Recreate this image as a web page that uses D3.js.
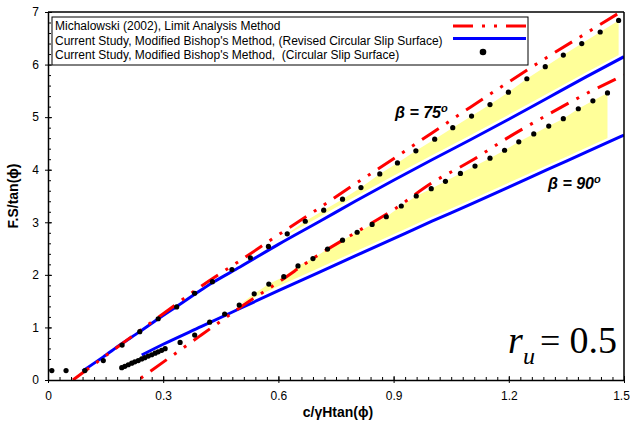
<!DOCTYPE html>
<html>
<head>
<meta charset="utf-8">
<script src="https://cdn.jsdelivr.net/npm/d3@7"></script>
<style>
  body { margin: 0; background: #fff; }
  svg { display: block; }
</style>
</head>
<body>
<svg id="chart" width="630" height="425"></svg>
<script>
// ---- axis ticks ----
const xTickValues = [0, 0.3, 0.6, 0.9, 1.2, 1.5];
const xTickLabels = ["0", "0.3", "0.6", "0.9", "1.2", "1.5"];
const yTickValues = [0, 1, 2, 3, 4, 5, 6, 7];
const yTickLabels = ["0", "1", "2", "3", "4", "5", "6", "7"];

// ---- legend entries ----
const seriesNames = [
  "Michalowski (2002), Limit Analysis Method",
  "Current Study, Modified Bishop's Method, (Revised Circular Slip Surface)",
  "Current Study, Modified Bishop's Method,  (Circular Slip Surface)"
];

// ---- Michalowski (2002), limit analysis ----
const limit75X = [0.065, 0.1, 0.2, 0.3, 0.4, 0.5, 0.6, 0.7, 0.8, 0.9, 1.0, 1.1, 1.2, 1.3, 1.4, 1.5];
const limit75Y = [0.0, 0.19, 0.73, 1.26, 1.79, 2.27, 2.76, 3.24, 3.73, 4.21, 4.70, 5.19, 5.67, 6.14, 6.59, 7.04];
const limit90X = [0.235, 0.3, 0.35, 0.4, 0.45, 0.5, 0.6, 0.7, 0.8, 0.9, 1.0, 1.1, 1.2, 1.3, 1.4, 1.5];
const limit90Y = [0.0, 0.34, 0.60, 0.86, 1.12, 1.38, 1.86, 2.36, 2.80, 3.24, 3.75, 4.16, 4.62, 5.04, 5.44, 5.80];

// ---- Modified Bishop, revised circular slip surface ----
const revised75X = [0.09, 0.144, 0.19, 0.239, 0.287, 0.335, 0.382, 0.428, 0.5, 0.6, 0.708, 0.8, 0.9, 1.0, 1.1, 1.2, 1.3, 1.4, 1.5];
const revised75Y = [0.17, 0.44, 0.68, 0.92, 1.165, 1.40, 1.63, 1.85, 2.15, 2.58, 3.02, 3.40, 3.80, 4.19, 4.57, 4.96, 5.36, 5.76, 6.15];
const revised90X = [0.244, 0.3, 0.4, 0.5, 0.6, 0.7, 0.8, 0.9, 1.0, 1.1, 1.2, 1.3, 1.4, 1.5];
const revised90Y = [0.475, 0.68, 1.02, 1.36, 1.70, 2.03, 2.36, 2.69, 3.02, 3.34, 3.67, 4.00, 4.33, 4.66];

// ---- Modified Bishop, circular slip surface ----
const circular75X = [0.01, 0.047, 0.096, 0.144, 0.193, 0.239, 0.287, 0.335, 0.382, 0.428, 0.479, 0.527, 0.574,
  0.623, 0.670, 0.718, 0.767, 0.815, 0.864, 0.910, 0.958, 1.007, 1.054, 1.103, 1.151, 1.199, 1.247, 1.295,
  1.342, 1.390, 1.438, 1.486];
const circular75Y = [0.18, 0.18, 0.18, 0.37, 0.665, 0.92, 1.165, 1.39, 1.65, 1.87, 2.10, 2.325, 2.54,
  2.78, 3.02, 3.23, 3.44, 3.66, 3.92, 4.13, 4.36, 4.58, 4.80, 5.02, 5.24, 5.475, 5.73, 5.96,
  6.18, 6.40, 6.62, 6.84];
const circular90X = [0.192, 0.200, 0.209, 0.218, 0.226, 0.235, 0.244, 0.252, 0.261, 0.270, 0.279, 0.287, 0.296, 0.305,
  0.344, 0.382, 0.421, 0.460, 0.498, 0.537, 0.575, 0.614, 0.651, 0.690, 0.728, 0.767, 0.805, 0.844, 0.881,
  0.920, 0.959, 0.998, 1.035, 1.074, 1.112, 1.151, 1.189, 1.226, 1.265, 1.304, 1.342, 1.381, 1.419, 1.457];
const circular90Y = [0.235, 0.26, 0.29, 0.32, 0.345, 0.37, 0.40, 0.425, 0.455, 0.48, 0.51, 0.535, 0.565, 0.595,
  0.715, 0.855, 1.10, 1.255, 1.425, 1.64, 1.825, 1.965, 2.17, 2.31, 2.49, 2.66, 2.81, 2.96, 3.105,
  3.31, 3.50, 3.64, 3.78, 3.93, 4.07, 4.22, 4.37, 4.53, 4.68, 4.83, 4.97, 5.16, 5.31, 5.46];

const zip = (xs, ys) => xs.map((v, i) => [v, ys[i]]);

const sans = "'Liberation Sans', Arial, sans-serif";
const serif = "'Liberation Serif', 'Times New Roman', serif";

const svg = d3.select("#chart").style("font-family", sans);
const plotLeft = 48, plotRight = 624, plotTop = 12, plotBottom = 380;
const x = d3.scaleLinear().domain([0, 1.5]).range([plotLeft, plotRight]);
const y = d3.scaleLinear().domain([0, 7]).range([plotBottom, plotTop]);

svg.append("defs").append("clipPath").attr("id", "plotClip")
  .append("rect").attr("x", plotLeft).attr("y", plotTop)
  .attr("width", plotRight - plotLeft).attr("height", plotBottom - plotTop);

const plot = svg.append("g").attr("clip-path", "url(#plotClip)");

// linear lookup on a polyline, used for the shaded band's lower edge
function lookup(xs, ys, v) {
  if (v <= xs[0]) return ys[0];
  for (let i = 0; i < xs.length - 1; i++) {
    if (v <= xs[i + 1]) {
      const t = (v - xs[i]) / (xs[i + 1] - xs[i]);
      return ys[i] + t * (ys[i + 1] - ys[i]);
    }
  }
  return ys[ys.length - 1];
}

// shaded bands between the circular and revised solutions
const bands = [
  { pts: zip(circular75X, circular75Y).filter(d => d[0] >= 0.42), lx: revised75X, ly: revised75Y },
  { pts: zip(circular90X, circular90Y).filter(d => d[0] >= 0.42), lx: revised90X, ly: revised90Y }
];
bands.forEach(b => {
  const area = d3.area()
    .x(d => x(d[0]))
    .y1(d => y(d[1]))
    .y0(d => y(lookup(b.lx, b.ly, d[0])));
  plot.append("path").attr("d", area(b.pts)).attr("fill", "#ffff99").attr("stroke", "none");
});

const line = d3.line().x(d => x(d[0])).y(d => y(d[1])).curve(d3.curveMonotoneX);

// revised circular slip surface (blue with white halo)
[zip(revised75X, revised75Y), zip(revised90X, revised90Y)].forEach(s => {
  plot.append("path").attr("d", line(s)).attr("fill", "none")
    .attr("stroke", "#fff").attr("stroke-width", 8);
});
[zip(revised75X, revised75Y), zip(revised90X, revised90Y)].forEach(s => {
  plot.append("path").attr("d", line(s)).attr("fill", "none")
    .attr("stroke", "#0000ff").attr("stroke-width", 3);
});

// limit analysis (red dash-dot-dot)
const dashPattern = "20,9,3,9,3,9";
plot.append("path").attr("d", line(zip(limit75X, limit75Y))).attr("fill", "none")
  .attr("stroke", "#ff0000").attr("stroke-width", 3)
  .attr("stroke-dasharray", dashPattern).attr("stroke-dashoffset", 0);
plot.append("path").attr("d", line(zip(limit90X, limit90Y))).attr("fill", "none")
  .attr("stroke", "#ff0000").attr("stroke-width", 3)
  .attr("stroke-dasharray", dashPattern).attr("stroke-dashoffset", 38);

// circular slip surface points
[zip(circular75X, circular75Y), zip(circular90X, circular90Y)].forEach(s => {
  plot.append("g").selectAll("circle").data(s).join("circle")
    .attr("cx", d => x(d[0])).attr("cy", d => y(d[1])).attr("r", 2.6).attr("fill", "#000");
});

// ---- axes ----
const xMinor = d3.range(0, 51).map(i => i * 0.03);
const yMinor = d3.range(0, 36).map(i => i * 0.2);

const gxMinor = svg.append("g").attr("transform", `translate(0,${plotBottom})`)
  .call(d3.axisBottom(x).tickValues(xMinor).tickSize(-3).tickSizeOuter(0).tickFormat(""));
gxMinor.select(".domain").remove();

const gx = svg.append("g").attr("transform", `translate(0,${plotBottom})`)
  .call(d3.axisBottom(x).tickValues(xTickValues).tickSizeInner(3).tickSizeOuter(0).tickPadding(8)
    .tickFormat((d, i) => xTickLabels[i]));
gx.selectAll(".tick line").attr("y1", -4);
gx.selectAll(".tick text").filter(d => d === 1.5).attr("dx", -3);

const gyMinor = svg.append("g").attr("transform", `translate(${plotLeft},0)`)
  .call(d3.axisLeft(y).tickValues(yMinor).tickSize(-3).tickSizeOuter(0).tickFormat(""));
gyMinor.select(".domain").remove();

const gy = svg.append("g").attr("transform", `translate(${plotLeft},0)`)
  .call(d3.axisLeft(y).tickValues(yTickValues).tickSizeInner(3).tickSizeOuter(0).tickPadding(6)
    .tickFormat((d, i) => yTickLabels[i]));
gy.selectAll(".tick line").attr("x1", 4);

svg.selectAll(".tick text").style("font-size", "12px").style("font-family", sans).attr("fill", "#000");
svg.selectAll(".domain").attr("stroke-width", 1.5);

// frame top and right
svg.append("line").attr("x1", plotLeft).attr("x2", plotRight).attr("y1", plotTop).attr("y2", plotTop)
  .attr("stroke", "#000").attr("stroke-width", 1.5);
svg.append("line").attr("x1", plotRight).attr("x2", plotRight).attr("y1", plotTop).attr("y2", plotBottom)
  .attr("stroke", "#000").attr("stroke-width", 1.5);

// axis titles
svg.append("text").attr("x", 338).attr("y", 417).attr("text-anchor", "middle")
  .style("font-size", "14px").style("font-weight", "bold").text("c/γHtan(ϕ)");
svg.append("text").attr("transform", "translate(18,196) rotate(-90)").attr("text-anchor", "middle")
  .style("font-size", "14px").style("font-weight", "bold").text("F.S/tan(ϕ)");

// ---- legend ----
const legend = svg.append("g");
legend.append("rect").attr("x", 52).attr("y", 17).attr("width", 476).attr("height", 48)
  .attr("fill", "#fff").attr("stroke", "#000").attr("stroke-width", 1);
const rowY = [30, 44.5, 58.5];
seriesNames.forEach((n, i) => {
  legend.append("text").attr("x", 55).attr("y", rowY[i]).style("font-size", "12px")
    .style("white-space", "pre").text(n);
});
legend.append("line").attr("x1", 453).attr("x2", 526).attr("y1", 26).attr("y2", 26)
  .attr("stroke", "#ff0000").attr("stroke-width", 3).attr("stroke-dasharray", dashPattern);
legend.append("line").attr("x1", 453).attr("x2", 526).attr("y1", 38.5).attr("y2", 38.5)
  .attr("stroke", "#0000ff").attr("stroke-width", 3);
legend.append("circle").attr("cx", 483).attr("cy", 52).attr("r", 3.3).attr("fill", "#000");

// ---- annotations ----
function betaLabel(px, py, value) {
  const t = svg.append("text").attr("x", px).attr("y", py)
    .style("font-size", "16px").style("font-weight", "bold").style("font-style", "italic");
  t.append("tspan").text("β = " + value);
  t.append("tspan").style("font-size", "11px").attr("dy", -6).text("o");
}
betaLabel(395, 118, "75");
betaLabel(548, 189, "90");

svg.append("text").attr("x", 508).attr("y", 353).style("font-family", serif)
  .style("font-size", "38px").style("font-style", "italic").text("r");
svg.append("text").attr("x", 523).attr("y", 364).style("font-family", serif)
  .style("font-size", "24px").style("font-style", "italic").text("u");
svg.append("text").attr("x", 540).attr("y", 353).style("font-family", serif)
  .style("font-size", "36px").text("=");
svg.append("text").attr("x", 617).attr("y", 353).attr("text-anchor", "end").style("font-family", serif)
  .style("font-size", "38px").text("0.5");
</script>
</body>
</html>
